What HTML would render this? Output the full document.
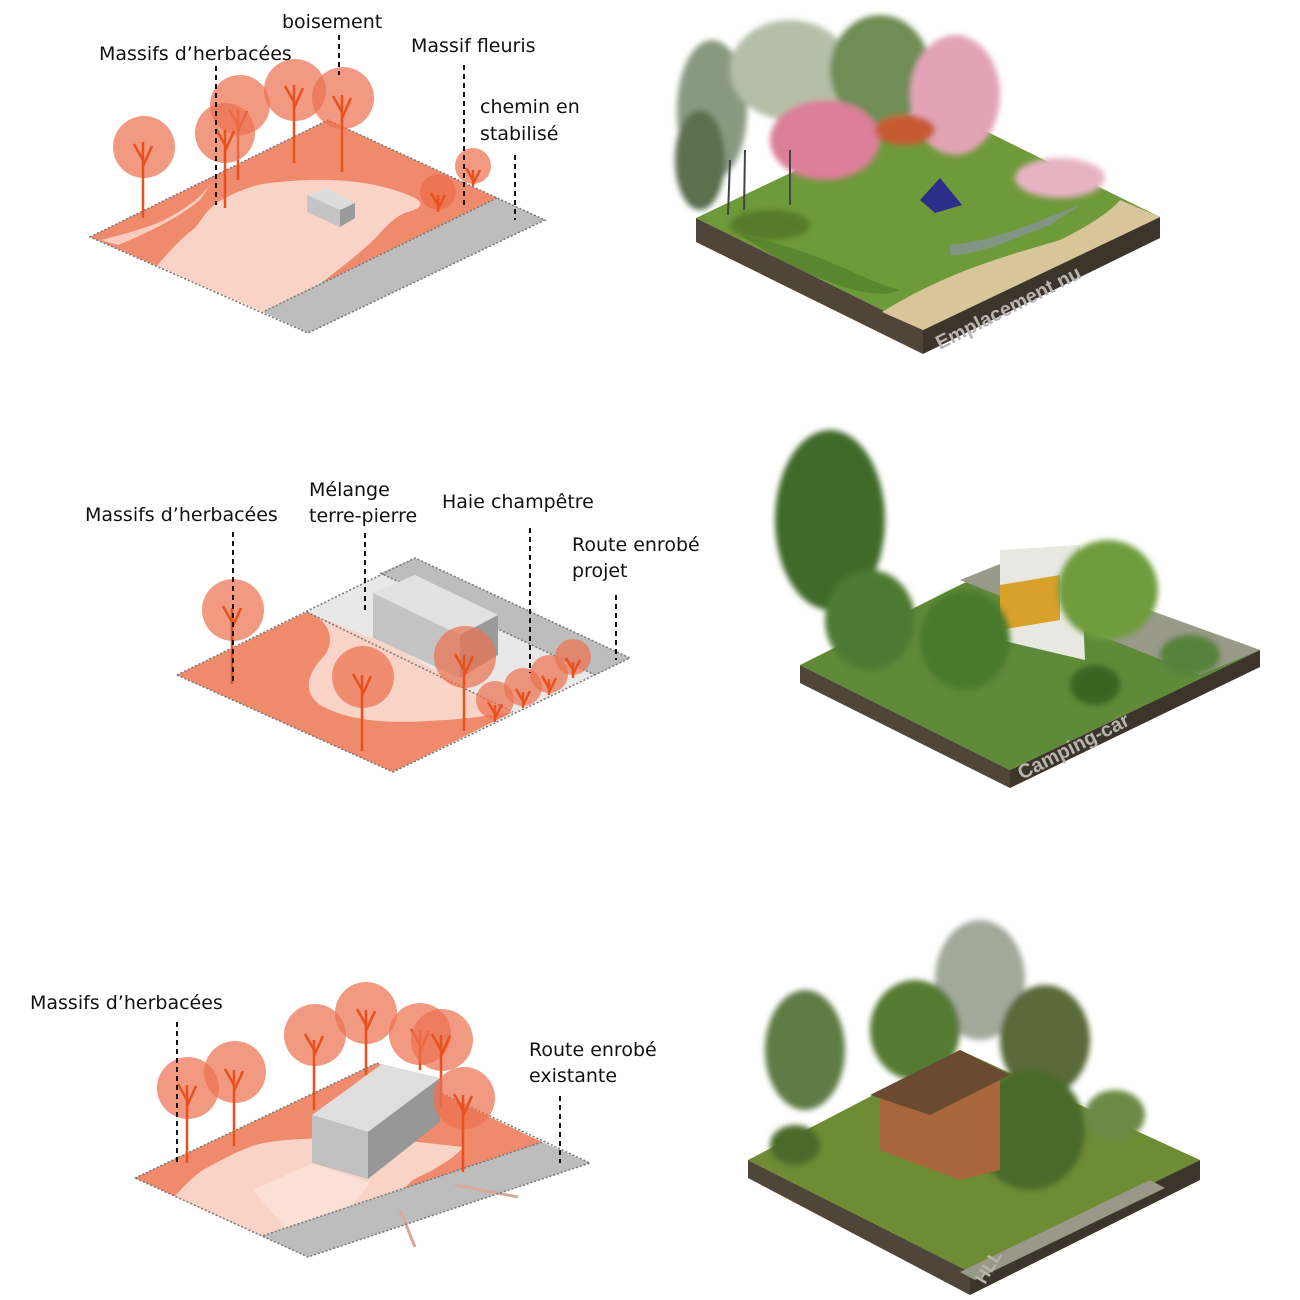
<!DOCTYPE html>
<html><head><meta charset="utf-8"><style>
html,body{margin:0;padding:0;background:#fff;}
svg{display:block}
text{font-family:"DejaVu Sans","Liberation Sans",sans-serif;font-size:19px;fill:#111}
.d{stroke:#111;stroke-width:2;stroke-dasharray:5,4;fill:none}
.tr{stroke:#e8501e;stroke-width:2.5;fill:none}
.c{fill:#ec7150;opacity:.72}
.edge{stroke:#777;stroke-width:1.5;stroke-dasharray:2,2}
</style></head><body>
<svg width="1300" height="1300" viewBox="0 0 1300 1300" xmlns="http://www.w3.org/2000/svg">
<defs>
<g id="br"><path class="tr" d="M0,0 l-9,-16 M0,6 l9,-20"/></g>
<g id="brs"><path class="tr" d="M0,0 l-7,-12 M0,4 l7,-14"/></g>
<filter id="blur"><feGaussianBlur stdDeviation="3"/></filter>
</defs>

<!-- ============ DIAGRAM 1 ============ -->
<polygon points="90,237 328,120 497,198 263,312" fill="#ef8a6c"/>
<path d="M157,266 C170,250 185,235 195,228 C205,215 210,205 225,198 C245,188 260,183 280,182 C320,178 370,178 413,197 C425,203 422,208 408,212 C395,216 388,225 380,233 C365,250 340,268 320,284 L263,312 Z" fill="#f9d3c6"/>
<path d="M100,240 L118,245 C150,232 178,218 200,200 L212,182 C200,200 180,212 160,222 C140,230 118,236 100,240 Z" fill="#f9d3c6" opacity=".9"/>
<polygon points="497,198 545,220 308,333 263,312" fill="#bdbdbd"/>
<polygon points="90,237 328,120 545,220 308,333" fill="none" class="edge"/>
<line x1="497" y1="198" x2="263" y2="312" class="edge"/>
<polygon points="307,195 327,188 355,203 340,210" fill="#dcdcdc"/>
<polygon points="307,195 340,210 340,227 307,212" fill="#c4c4c4"/>
<polygon points="340,210 355,203 355,218 340,227" fill="#9a9a9a"/>
<circle class="c" cx="144" cy="147" r="31"/><line class="tr" x1="143" y1="142" x2="143" y2="218"/><use href="#br" x="143" y="160"/>
<circle class="c" cx="240" cy="105" r="30"/><line class="tr" x1="238" y1="110" x2="238" y2="180"/><use href="#br" x="238" y="125"/>
<circle class="c" cx="225" cy="133" r="30"/><line class="tr" x1="225" y1="130" x2="225" y2="208"/><use href="#br" x="225" y="145"/>
<circle class="c" cx="295" cy="90" r="31"/><line class="tr" x1="294" y1="85" x2="294" y2="163"/><use href="#br" x="294" y="102"/>
<circle class="c" cx="343" cy="98" r="31"/><line class="tr" x1="342" y1="95" x2="342" y2="172"/><use href="#br" x="342" y="112"/>
<circle class="c" cx="438" cy="192" r="18" style="opacity:.85"/><use href="#brs" x="438" y="205"/><line class="tr" x1="438" y1="195" x2="438" y2="212"/>
<circle class="c" cx="473" cy="166" r="18"/><use href="#brs" x="473" y="180"/><line class="tr" x1="473" y1="170" x2="473" y2="186"/>
<line class="d" x1="216" y1="66" x2="216" y2="205"/>
<line class="d" x1="339" y1="35" x2="339" y2="75"/>
<line class="d" x1="464" y1="65" x2="464" y2="205"/>
<line class="d" x1="515" y1="155" x2="515" y2="220"/>
<text x="282" y="28">boisement</text>
<text x="99" y="60">Massifs d’herbacées</text>
<text x="411" y="52">Massif fleuris</text>
<text x="480" y="113">chemin en</text>
<text x="480" y="140">stabilisé</text>

<!-- ============ DIAGRAM 2 ============ -->
<polygon points="177,675 415,558 630,658 393,772" fill="#e8e8e8"/>
<polygon points="380,573 415,558 630,658 595,675" fill="#bdbdbd"/>
<polygon points="177,675 307,612 513,712 393,772" fill="#ef8a6c"/>
<path d="M307,612 C330,620 335,640 325,655 C310,670 300,690 320,705 C360,728 420,722 470,718 L513,712 L470,690 L400,650 Z" fill="#f9d3c6"/>
<polygon points="177,675 415,558 630,658 393,772" fill="none" class="edge"/>
<line class="edge" x1="307" y1="612" x2="513" y2="712"/>
<line class="edge" x1="380" y1="573" x2="595" y2="675"/>
<polygon points="373,593 415,575 498,615 460,635" fill="#e2e2e2"/>
<polygon points="373,593 460,635 460,678 373,638" fill="#c4c4c4"/>
<polygon points="460,635 498,615 498,655 460,678" fill="#9a9a9a"/>
<circle class="c" cx="233" cy="610" r="31"/><line class="tr" x1="232" y1="608" x2="232" y2="684"/><use href="#br" x="232" y="622"/>
<circle class="c" cx="363" cy="677" r="31"/><line class="tr" x1="362" y1="675" x2="362" y2="751"/><use href="#br" x="362" y="690"/>
<circle class="c" cx="465" cy="657" r="31"/><line class="tr" x1="464" y1="655" x2="464" y2="731"/><use href="#br" x="464" y="670"/>
<circle class="c" cx="495" cy="700" r="19"/><use href="#brs" x="495" y="714"/><line class="tr" x1="495" y1="705" x2="495" y2="722"/>
<circle class="c" cx="523" cy="687" r="19"/><use href="#brs" x="523" y="701"/><line class="tr" x1="523" y1="692" x2="523" y2="708"/>
<circle class="c" cx="549" cy="674" r="19"/><use href="#brs" x="549" y="688"/><line class="tr" x1="549" y1="679" x2="549" y2="695"/>
<circle class="c" cx="573" cy="657" r="18"/><use href="#brs" x="573" y="670"/><line class="tr" x1="573" y1="662" x2="573" y2="678"/>
<line class="d" x1="233" y1="532" x2="233" y2="683"/>
<line class="d" x1="365" y1="533" x2="365" y2="612"/>
<line class="d" x1="530" y1="528" x2="530" y2="673"/>
<line class="d" x1="616" y1="595" x2="616" y2="660"/>
<text x="85" y="521">Massifs d’herbacées</text>
<text x="309" y="496">Mélange</text>
<text x="309" y="522">terre-pierre</text>
<text x="442" y="508">Haie champêtre</text>
<text x="572" y="551">Route enrobé</text>
<text x="572" y="577">projet</text>

<!-- ============ DIAGRAM 3 ============ -->
<polygon points="135,1178 377,1063 542,1142 308,1257" fill="#ef8a6c"/>
<path d="M175,1196 C185,1185 195,1175 203,1170 C225,1158 245,1147 263,1143 C290,1138 330,1137 400,1140 L463,1147 C455,1158 440,1165 433,1170 C420,1176 412,1180 410,1183 C400,1192 395,1198 393,1203 L308,1257 Z" fill="#f9d3c6"/>
<polygon points="253,1190 313,1163 370,1183 337,1223 307,1253" fill="#fbe0d6"/>
<polygon points="542,1142 590,1163 308,1257 262,1236" fill="#bdbdbd"/>
<path d="M455,1185 L518,1197 M400,1210 L415,1247" stroke="#d8a898" stroke-width="3"/>
<polygon points="135,1178 377,1063 590,1163 308,1257" fill="none" class="edge"/>
<line class="edge" x1="542" y1="1142" x2="262" y2="1236"/>
<circle class="c" cx="188" cy="1088" r="31"/><line class="tr" x1="187" y1="1085" x2="187" y2="1163"/><use href="#br" x="187" y="1100"/>
<circle class="c" cx="235" cy="1072" r="31"/><line class="tr" x1="234" y1="1070" x2="234" y2="1146"/><use href="#br" x="234" y="1085"/>
<circle class="c" cx="315" cy="1035" r="31"/><line class="tr" x1="314" y1="1040" x2="314" y2="1110"/><use href="#br" x="314" y="1050"/>
<polygon points="312,1115 382,1064 440,1078 368,1132" fill="#dedede"/>
<polygon points="312,1115 368,1132 368,1179 312,1163" fill="#c0c0c0"/>
<polygon points="368,1132 440,1078 440,1122 368,1179" fill="#979797"/>
<circle class="c" cx="366" cy="1013" r="31"/><line class="tr" x1="366" y1="1010" x2="366" y2="1075"/><use href="#br" x="366" y="1025"/>
<circle class="c" cx="420" cy="1034" r="31"/><line class="tr" x1="420" y1="1030" x2="420" y2="1070"/><use href="#br" x="420" y="1045"/>
<circle class="c" cx="442" cy="1040" r="31"/><line class="tr" x1="441" y1="1035" x2="441" y2="1108"/><use href="#br" x="441" y="1050"/>
<circle class="c" cx="464" cy="1098" r="31"/><line class="tr" x1="463" y1="1095" x2="463" y2="1172"/><use href="#br" x="463" y="1110"/>
<line class="d" x1="177" y1="1022" x2="177" y2="1163"/>
<line class="d" x1="560" y1="1096" x2="560" y2="1163"/>
<text x="30" y="1009">Massifs d’herbacées</text>
<text x="529" y="1056">Route enrobé</text>
<text x="529" y="1082">existante</text>

<!-- ============ PHOTO 1 ============ -->
<polygon points="696,218 923,330 923,354 696,242" fill="#4f4538"/>
<polygon points="923,330 1160,217 1160,238 923,354" fill="#3d352b"/>
<polygon points="696,218 933,105 1160,217 923,330" fill="#6f9a3a"/>
<path d="M882,312 C950,270 1010,255 1060,240 C1090,225 1110,212 1120,200 L1160,217 L923,330 Z" fill="#d9c59a"/>
<path d="M740,235 C820,250 860,280 900,290 C880,300 840,290 780,260 Z" fill="#4f7a28" opacity=".6"/>
<path d="M950,245 C1000,240 1040,220 1080,205 L1050,225 C1010,240 980,255 950,255 Z" fill="#8e93b8" opacity=".6"/>
<g filter="url(#blur)">
<ellipse cx="712" cy="110" rx="35" ry="70" fill="#8a9a80"/>
<ellipse cx="700" cy="160" rx="25" ry="50" fill="#5c7050"/>
<ellipse cx="790" cy="70" rx="60" ry="50" fill="#b4bfa8"/>
<ellipse cx="880" cy="70" rx="50" ry="55" fill="#6f8d55"/>
<ellipse cx="825" cy="140" rx="55" ry="40" fill="#dc7f98"/>
<ellipse cx="955" cy="95" rx="45" ry="60" fill="#e2a3b6"/>
<ellipse cx="1060" cy="178" rx="45" ry="20" fill="#e7b3c3"/>
<ellipse cx="905" cy="130" rx="30" ry="15" fill="#c85a30"/>
<ellipse cx="770" cy="225" rx="40" ry="15" fill="#567a2a"/>
</g>
<path d="M730,160 L728,215 M745,150 L744,210 M790,150 L790,205" stroke="#444" stroke-width="2"/>
<polygon points="920,200 940,178 962,205 935,213" fill="#2c2f8a"/>
<text transform="translate(940,350) rotate(-27)" style="font-family:'Liberation Sans',sans-serif;font-weight:bold;font-size:20px;fill:#b8b4ae">Emplacement nu</text>

<!-- ============ PHOTO 2 ============ -->
<polygon points="800,665 1010,770 1010,788 800,683" fill="#4f4538"/>
<polygon points="1010,770 1260,650 1260,667 1010,788" fill="#3d352b"/>
<polygon points="800,665 1010,560 1260,650 1010,770" fill="#5f8a38"/>
<polygon points="960,580 1010,560 1260,650 1200,675" fill="#9a9a8a"/>
<polygon points="1000,550 1080,545 1085,660 1000,640" fill="#e8e8e2"/>
<polygon points="1000,585 1060,575 1060,620 1000,630" fill="#d9a02a"/>
<g filter="url(#blur)">
<ellipse cx="830" cy="520" rx="55" ry="90" fill="#3f6a2a"/>
<ellipse cx="870" cy="620" rx="45" ry="50" fill="#4d7a30"/>
<ellipse cx="965" cy="640" rx="45" ry="50" fill="#4a7a2c"/>
<ellipse cx="1108" cy="590" rx="50" ry="50" fill="#6f9c3c"/>
<ellipse cx="1190" cy="655" rx="30" ry="20" fill="#56813a"/>
<ellipse cx="1095" cy="685" rx="25" ry="20" fill="#3c6424"/>
</g>
<text transform="translate(1022,780) rotate(-27)" style="font-family:'Liberation Sans',sans-serif;font-weight:bold;font-size:20px;fill:#b8b4ae">Camping-car</text>

<!-- ============ PHOTO 3 ============ -->
<polygon points="748,1160 970,1272 970,1295 748,1178" fill="#4f4538"/>
<polygon points="970,1272 1200,1160 1200,1180 970,1295" fill="#3d352b"/>
<polygon points="748,1160 960,1050 1200,1160 970,1272" fill="#6e8c34"/>
<path d="M960,1272 L1150,1180 L1165,1188 L975,1280 Z" fill="#9a9888"/>
<g filter="url(#blur)">
<ellipse cx="980" cy="980" rx="45" ry="60" fill="#a2a99a"/>
<ellipse cx="805" cy="1050" rx="40" ry="60" fill="#5f7c44"/>
<ellipse cx="915" cy="1030" rx="45" ry="50" fill="#557a30"/>
<ellipse cx="1045" cy="1040" rx="45" ry="55" fill="#5a6a38"/>
<ellipse cx="1030" cy="1130" rx="55" ry="60" fill="#4a6a2a"/>
<ellipse cx="1115" cy="1115" rx="30" ry="25" fill="#6b8a44"/>
<ellipse cx="795" cy="1145" rx="25" ry="20" fill="#4b6a2c"/>
</g>
<polygon points="880,1100 960,1060 1000,1080 1000,1170 960,1180 880,1150" fill="#a8663a"/>
<polygon points="870,1095 960,1050 1010,1075 930,1115" fill="#6a4a30"/>
<text transform="translate(985,1285) rotate(-60)" style="font-family:'Liberation Sans',sans-serif;font-weight:bold;font-size:18px;fill:#b8b4ae">HLL</text>
</svg>
</body></html>
